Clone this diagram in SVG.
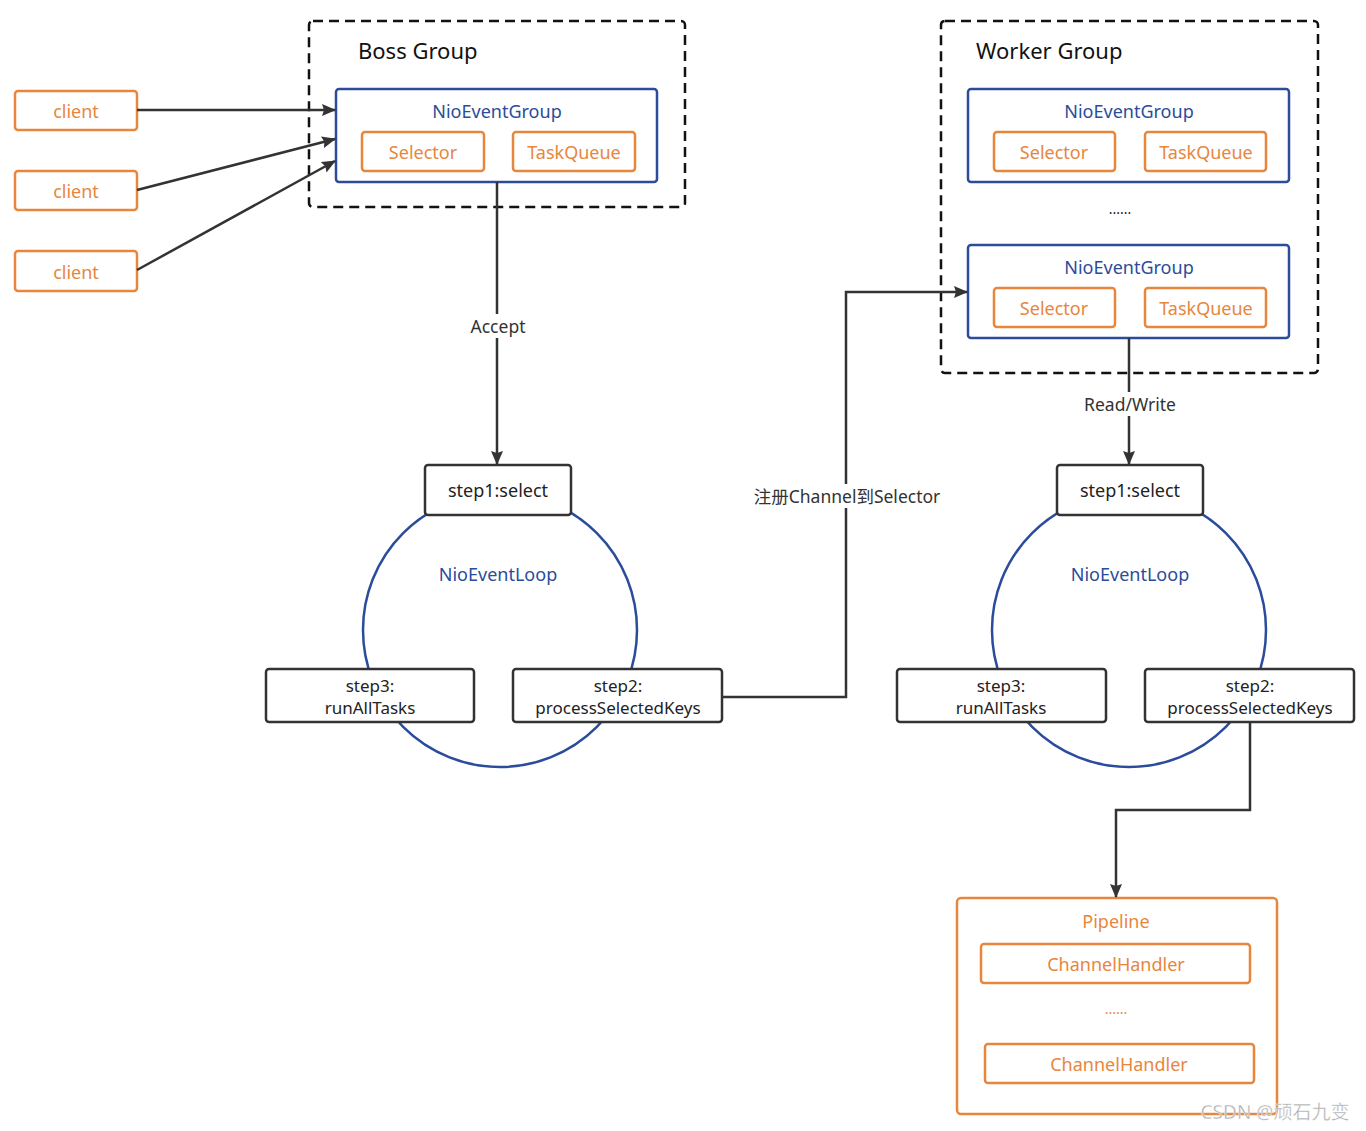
<svg xmlns="http://www.w3.org/2000/svg" width="1366" height="1131" viewBox="0 0 1366 1131">
<defs>
<marker id="ah" markerWidth="14" markerHeight="12" refX="13" refY="6" orient="auto" markerUnits="userSpaceOnUse" viewBox="0 0 14 12">
<path d="M0,0 L14,6 L0,12 L2,6 Z" fill="#333"/>
</marker>
</defs>
<style>
text{font-family:"Noto Sans","Open Sans","Noto Sans CJK SC",sans-serif;text-anchor:middle;dominant-baseline:central}
.grp{fill:none;stroke:#111;stroke-width:2.5;stroke-dasharray:10 6}
.blue{fill:#fff;stroke:#2B4C9B;stroke-width:2.5}
.org{fill:#fff;stroke:#E8863D;stroke-width:2.5}
.blk{fill:#fff;stroke:#333;stroke-width:2.5}
.loop{fill:none;stroke:#2B4C9B;stroke-width:2.5}
.tb{fill:#2B4C9B;font-size:18px}
.to{fill:#E8863D;font-size:18px}
.tk{fill:#222;font-size:18px}
.ts{fill:#222;font-size:17px}
.tl{fill:#333;font-size:17.5px}
.title{fill:#111;font-size:22px;text-anchor:start}
.conn{fill:none;stroke:#333;stroke-width:2.5}
</style>
<rect width="1366" height="1131" fill="#fff"/>

<g id="clients">
<g id="client1"><rect class="org" x="15" y="91" width="122" height="39" rx="3"/><text class="to" x="76" y="111">client</text></g>
<g id="client2"><rect class="org" x="15" y="171" width="122" height="39" rx="3"/><text class="to" x="76" y="191">client</text></g>
<g id="client3"><rect class="org" x="15" y="251" width="122" height="40" rx="3"/><text class="to" x="76" y="272">client</text></g>
</g>

<g id="boss-group">
<rect class="grp" x="309" y="21" width="376" height="186" rx="4"/>
<text class="title" x="358" y="50">Boss Group</text>
<g id="boss-nioeventgroup">
<rect class="blue" x="336" y="89" width="321" height="93" rx="3"/>
<text class="tb" x="497" y="111">NioEventGroup</text>
<rect class="org" x="362" y="132" width="122" height="39" rx="3"/><text class="to" x="423" y="152">Selector</text>
<rect class="org" x="513" y="132" width="122" height="39" rx="3"/><text class="to" x="574" y="152">TaskQueue</text>
</g>
</g>

<g id="worker-group">
<rect class="grp" x="941" y="21" width="377" height="352" rx="4"/>
<text class="title" x="976" y="50">Worker Group</text>
<g id="worker-nioeventgroup1">
<rect class="blue" x="968" y="89" width="321" height="93" rx="3"/>
<text class="tb" x="1129" y="111">NioEventGroup</text>
<rect class="org" x="994" y="132" width="121" height="39" rx="3"/><text class="to" x="1054" y="152">Selector</text>
<rect class="org" x="1145" y="132" width="121" height="39" rx="3"/><text class="to" x="1206" y="152">TaskQueue</text>
</g>
<text class="tk" x="1120" y="208" style="font-size:14px">......</text>
<g id="worker-nioeventgroup2">
<rect class="blue" x="968" y="245" width="321" height="93" rx="3"/>
<text class="tb" x="1129" y="267">NioEventGroup</text>
<rect class="org" x="994" y="288" width="121" height="39" rx="3"/><text class="to" x="1054" y="308">Selector</text>
<rect class="org" x="1145" y="288" width="121" height="39" rx="3"/><text class="to" x="1206" y="308">TaskQueue</text>
</g>
</g>

<g id="boss-loop">
<circle class="loop" cx="500" cy="630" r="137"/>
<text class="tb" x="498" y="574">NioEventLoop</text>
<g id="boss-step1"><rect class="blk" x="425" y="465" width="146" height="50" rx="3"/><text class="tk" x="498" y="490">step1:select</text></g>
<g id="boss-step3"><rect class="blk" x="266" y="669" width="208" height="53" rx="3"/><text class="ts" x="370" y="685">step3:</text><text class="ts" x="370" y="707">runAllTasks</text></g>
<g id="boss-step2"><rect class="blk" x="513" y="669" width="209" height="53" rx="3"/><text class="ts" x="618" y="685">step2:</text><text class="ts" x="618" y="707">processSelectedKeys</text></g>
</g>

<g id="worker-loop">
<circle class="loop" cx="1129" cy="630" r="137"/>
<text class="tb" x="1130" y="574">NioEventLoop</text>
<g id="worker-step1"><rect class="blk" x="1057" y="465" width="146" height="50" rx="3"/><text class="tk" x="1130" y="490">step1:select</text></g>
<g id="worker-step3"><rect class="blk" x="897" y="669" width="209" height="53" rx="3"/><text class="ts" x="1001" y="685">step3:</text><text class="ts" x="1001" y="707">runAllTasks</text></g>
<g id="worker-step2"><rect class="blk" x="1145" y="669" width="209" height="53" rx="3"/><text class="ts" x="1250" y="685">step2:</text><text class="ts" x="1250" y="707">processSelectedKeys</text></g>
</g>

<g id="pipeline">
<rect class="org" x="957" y="898" width="320" height="216" rx="4"/>
<text class="to" x="1116" y="921">Pipeline</text>
<rect class="org" x="981" y="944" width="269" height="39" rx="3"/><text class="to" x="1116" y="964">ChannelHandler</text>
<text class="to" x="1116" y="1008" style="font-size:14px">......</text>
<rect class="org" x="985" y="1044" width="269" height="39" rx="3"/><text class="to" x="1119" y="1064">ChannelHandler</text>
</g>

<g id="connectors">
<line class="conn" x1="137" y1="110" x2="335" y2="110" marker-end="url(#ah)"/>
<line class="conn" x1="137" y1="190" x2="335" y2="139" marker-end="url(#ah)"/>
<line class="conn" x1="137" y1="270" x2="335" y2="161" marker-end="url(#ah)"/>
<line class="conn" x1="497" y1="182" x2="497" y2="464" marker-end="url(#ah)"/>
<rect x="466" y="314" width="64" height="24" fill="#fff"/>
<text class="tl" x="498" y="326">Accept</text>
<polyline class="conn" points="722,697 846,697 846,292 967,292" marker-end="url(#ah)"/>
<rect x="752" y="484" width="190" height="24" fill="#fff"/>
<text class="tl" x="847" y="496">注册Channel到Selector</text>
<line class="conn" x1="1129" y1="338" x2="1129" y2="464" marker-end="url(#ah)"/>
<rect x="1082" y="392" width="96" height="24" fill="#fff"/>
<text class="tl" x="1130" y="404">Read/Write</text>
<polyline class="conn" points="1250,722 1250,810 1116,810 1116,897" marker-end="url(#ah)"/>
</g>

<text x="1275" y="1112" style="font-size:19px;fill:#aaa;stroke:#fff;stroke-width:0.4;font-family:'Noto Sans','Noto Sans CJK SC',sans-serif">CSDN @顽石九变</text>
</svg>
